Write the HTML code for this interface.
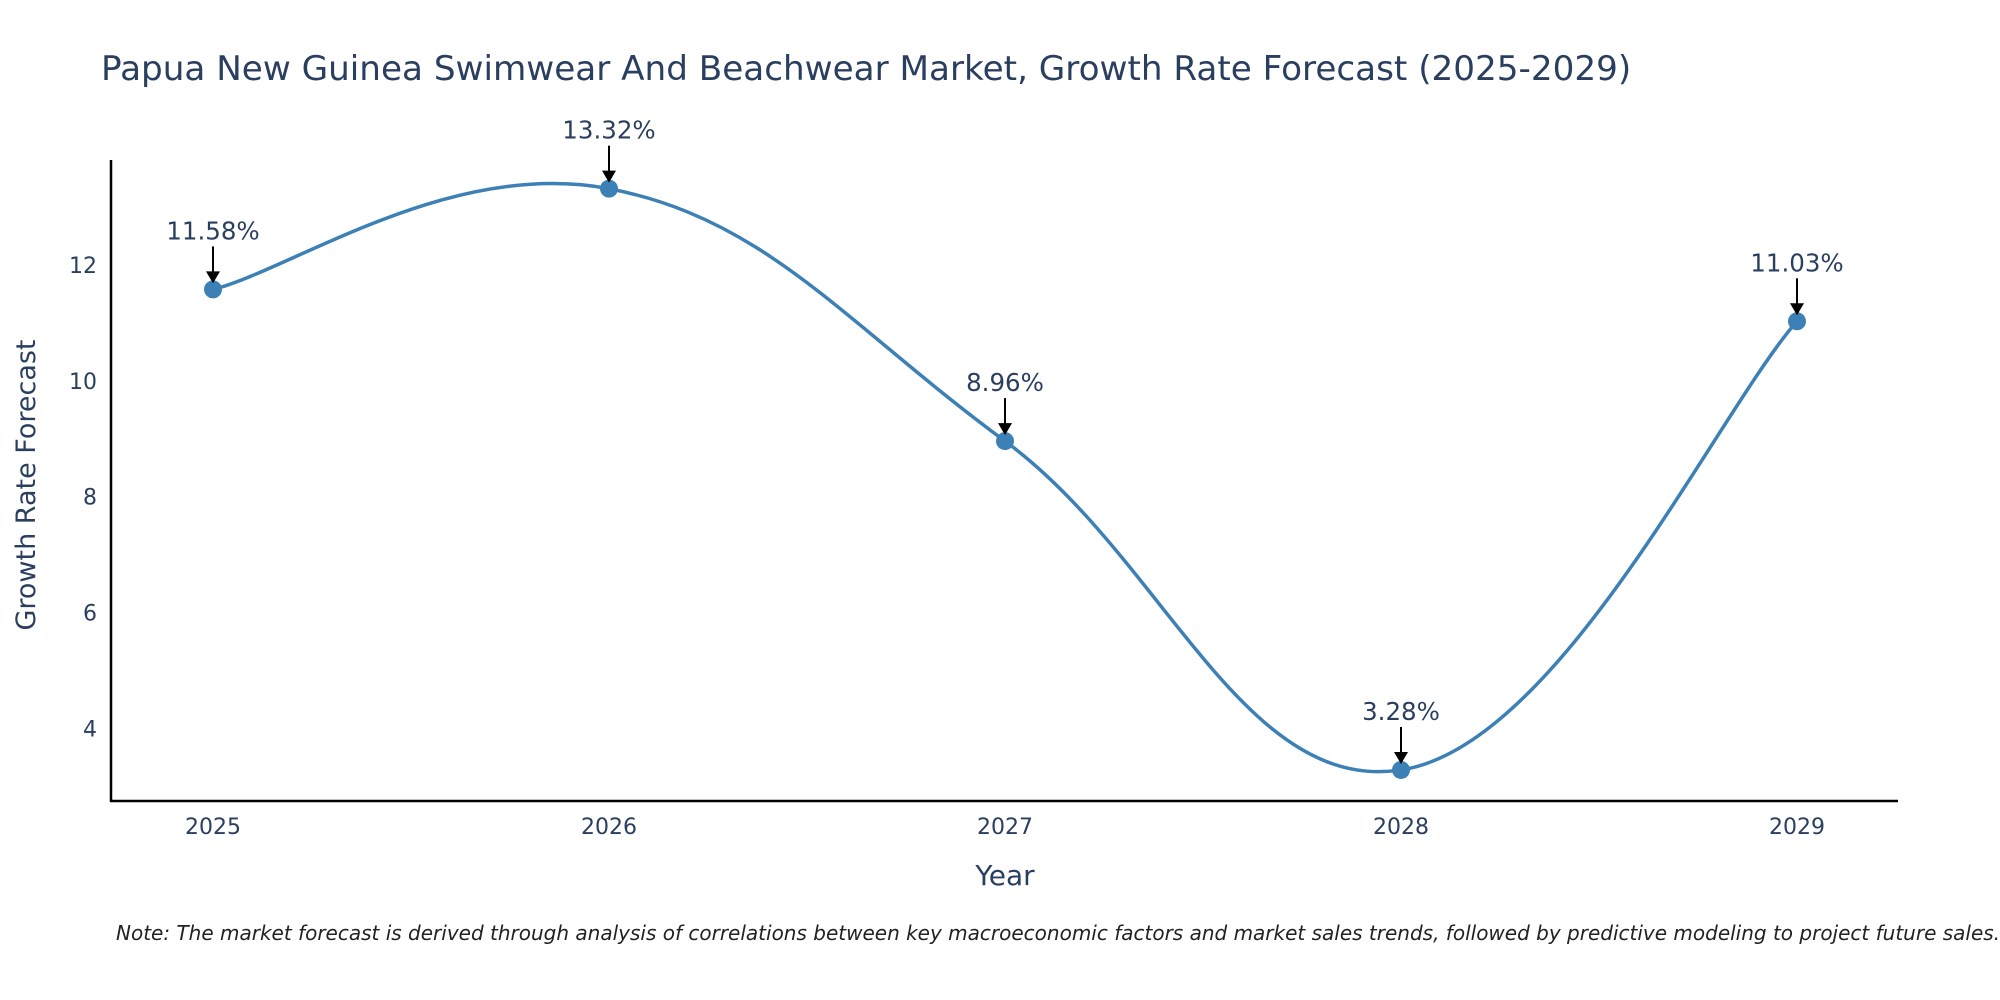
<!DOCTYPE html>
<html><head><meta charset="utf-8"><style>
html,body{margin:0;padding:0;background:#fff;width:2000px;height:1000px;overflow:hidden}
text{font-family:"DejaVu Sans","Liberation Sans",Arial,sans-serif}
</style></head><body>
<svg id="chart" width="2000" height="1000" viewBox="0 0 2000 1000" xmlns="http://www.w3.org/2000/svg">
<text x="101" y="80" font-size="34.2" fill="#2a3f5f">Papua New Guinea Swimwear And Beachwear Market, Growth Rate Forecast (2025-2029)</text>
<g id="axes"></g>
<g id="marks"></g>
<text x="1005" y="885" font-size="28" fill="#2a3f5f" text-anchor="middle">Year</text>
<text transform="translate(35,485) rotate(-90)" font-size="27" fill="#2a3f5f" text-anchor="middle">Growth Rate Forecast</text>
<text x="116" y="940" font-size="20" font-style="italic" fill="#222">Note: The market forecast is derived through analysis of correlations between key macroeconomic factors and market sales trends, followed by predictive modeling to project future sales.</text>
</svg>
<script>
const years = [2025, 2026, 2027, 2028, 2029];
const growth = [11.58, 13.32, 8.96, 3.28, 11.03];
const labels = ["11.58%", "13.32%", "8.96%", "3.28%", "11.03%"];
const yTicks = [4, 6, 8, 10, 12];

const NS = "http://www.w3.org/2000/svg";
const X0 = 111, X1 = 1898, Y0 = 801, Y1 = 160;
function xs(v){ return 213 + (v - 2025) * 396; }
function ys(v){ return 728.3 - (v - 4) * 57.9; }
function mk(tag, attrs, parent){ const e = document.createElementNS(NS, tag); for (const k in attrs) e.setAttribute(k, attrs[k]); parent.appendChild(e); return e; }
const axes = document.getElementById('axes'), marks = document.getElementById('marks');

const ya = mk('line', {x1:X0, y1:Y1, x2:X0, y2:Y0+1, stroke:'#000', 'stroke-width':2.5}, axes);


const xa = mk('line', {x1:X0-1, y1:Y0, x2:X1, y2:Y0, stroke:'#000', 'stroke-width':2.5}, axes);



yTicks.forEach(t => {
  const tx = mk('text', {x:X0-14, y:ys(t)+8, 'font-size':22, fill:'#2a3f5f', 'text-anchor':'end'}, axes);
  tx.textContent = t;
  
  
});
years.forEach(y => {
  const tx = mk('text', {x:xs(y), y:834, 'font-size':22, fill:'#2a3f5f', 'text-anchor':'middle'}, axes);
  tx.textContent = y;
  
  
});

const pts = years.map((y,i)=>[xs(y), ys(growth[i])]);
let d = `M${pts[0][0]},${pts[0][1]}`;
const s = 0.2;
for (let i=0;i<pts.length-1;i++){
  const p0 = pts[Math.max(i-1,0)], p1 = pts[i], p2 = pts[i+1], p3 = pts[Math.min(i+2,pts.length-1)];
  const c1 = [p1[0]+(p2[0]-p0[0])*s, p1[1]+(p2[1]-p0[1])*s];
  const c2 = [p2[0]-(p3[0]-p1[0])*s, p2[1]-(p3[1]-p1[1])*s];
  d += ` C${c1[0]},${c1[1]} ${c2[0]},${c2[1]} ${p2[0]},${p2[1]}`;
}
const line = mk('path', {d, fill:'none', stroke:'#3d80b5', 'stroke-width':3.5}, marks);



pts.forEach((p,i) => {
  const c = mk('circle', {cx:p[0], cy:p[1], r:9, fill:'#3d80b5'}, marks);
  
  
  const a = mk('line', {x1:p[0], y1:p[1]-43, x2:p[0], y2:p[1]-16, stroke:'#000', 'stroke-width':2}, marks);
  
  
  const h = mk('polygon', {points:`${p[0]-7},${p[1]-18} ${p[0]+7},${p[1]-18} ${p[0]},${p[1]-6}`, fill:'#000'}, marks);
  
  
  const t = mk('text', {x:p[0], y:p[1]-50, 'font-size':24.5, fill:'#2a3f5f', 'text-anchor':'middle'}, marks);
  t.textContent = labels[i];
  
  
});
</script>
</body></html>
